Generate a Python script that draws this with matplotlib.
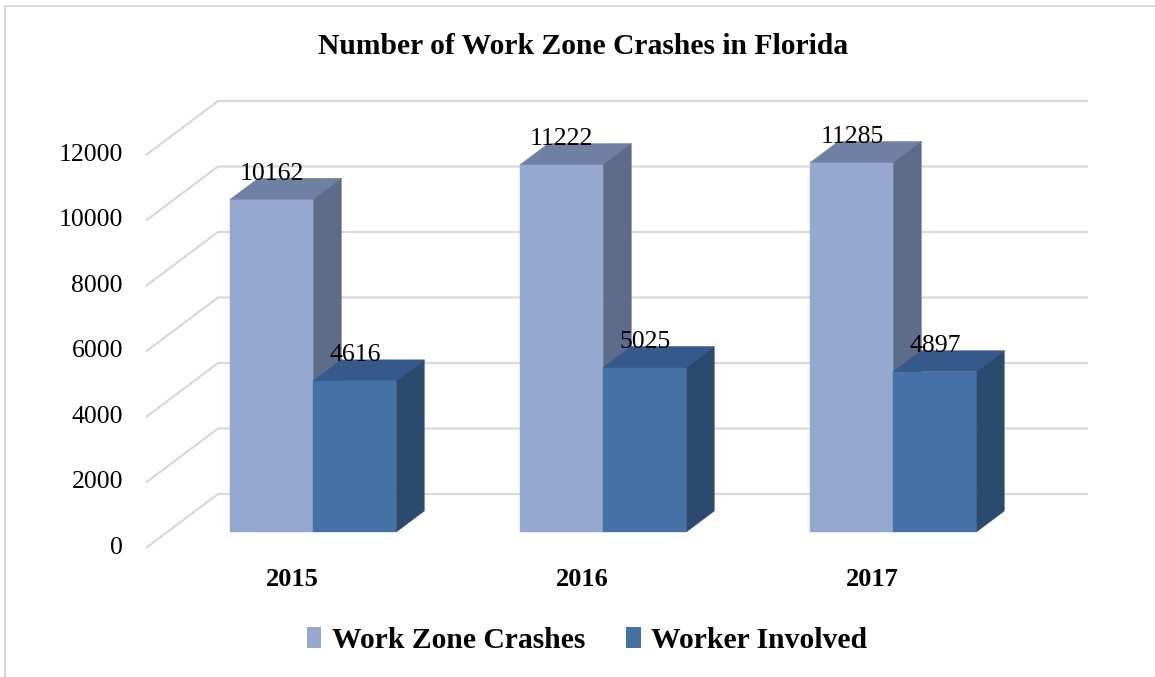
import matplotlib
matplotlib.use("Agg")
import matplotlib.pyplot as plt
from matplotlib.patches import Polygon, Patch
from matplotlib.lines import Line2D

# ---------------- data ----------------
years = ["2015", "2016", "2017"]
work_zone_crashes = [10162, 11222, 11285]
worker_involved = [4616, 5025, 4897]
series_names = ["Work Zone Crashes", "Worker Involved"]
y_ticks = [0, 2000, 4000, 6000, 8000, 10000, 12000]
title = "Number of Work Zone Crashes in Florida"

# ---------------- style ----------------
W, H, DPI = 1155, 677, 100
FONT = ["Liberation Serif", "DejaVu Serif"]
light = dict(front="#94A8D0", top="#6F80A3", side="#5D6C88")
dark = dict(front="#4472A6", top="#35598A", side="#2C4A6E")
grid_c = "#D9D9D9"

# layout in pixel anchors -> data mapping
PX_CAT0 = 292.0        # x pixel of category 0 on the front plane
PX_PER_CAT = 290.0
PX_Y0 = 548.0          # y pixel of value 0 on the front plane
PX_PER_VAL = 393.0 / 12000
DEPTH_PX = (72.0, 54.0)
DX = DEPTH_PX[0] / PX_PER_CAT
DY = DEPTH_PX[1] / PX_PER_VAL
T0, T1 = 0.296, 0.685           # bar front/back depth fraction
BAR_W = 83.0 / PX_PER_CAT

fig = plt.figure(figsize=(W / DPI, H / DPI), dpi=DPI)
ax = fig.add_axes([0, 0, 1, 1])
ax.set_xlim(-PX_CAT0 / PX_PER_CAT, (W - PX_CAT0) / PX_PER_CAT)
ax.set_ylim(-(H - PX_Y0) / PX_PER_VAL, PX_Y0 / PX_PER_VAL)
ax.axis("off")

def px2x(px):
    return (px - PX_CAT0) / PX_PER_CAT

# gridlines (floor/back wall)
x_left = px2x(146)
x_right = px2x(1088)
for v in y_ticks:
    ax.add_line(Line2D([x_left, x_left + DX, x_right], [v, v + DY, v + DY],
                       color=grid_c, lw=1.6, zorder=1, solid_capstyle="butt"))
    ax.text(px2x(123), v, f"{v}", ha="right", va="center", fontsize=18.5,
            family=FONT, color="#000000")

def draw_bar(x0, value, cols, z):
    x1 = x0 + BAR_W
    ox0, oy0 = T0 * DX, T0 * DY
    ox1, oy1 = T1 * DX, T1 * DY
    front = [(x0 + ox0, oy0), (x1 + ox0, oy0), (x1 + ox0, value + oy0), (x0 + ox0, value + oy0)]
    top = [(x0 + ox0, value + oy0), (x1 + ox0, value + oy0), (x1 + ox1, value + oy1), (x0 + ox1, value + oy1)]
    side = [(x1 + ox0, oy0), (x1 + ox1, oy1), (x1 + ox1, value + oy1), (x1 + ox0, value + oy0)]
    for pts, c in ((front, cols["front"]), (top, cols["top"]), (side, cols["side"])):
        ax.add_patch(Polygon(pts, closed=True, facecolor=c, edgecolor=c, lw=0.3, zorder=z))
    return (x0 + x1) / 2 + ox0, value + oy0

labels = []
for i, (a, b) in enumerate(zip(work_zone_crashes, worker_involved)):
    cx, ty = draw_bar(i - BAR_W, a, light, 2 + 2 * i)
    labels.append((cx, ty, a))
    cx, ty = draw_bar(i, b, dark, 3 + 2 * i)
    labels.append((cx, ty, b))
    ax.text(i, -(579 - PX_Y0) / PX_PER_VAL, years[i], ha="center", va="center",
            fontsize=19, fontweight="bold", family=FONT)

for cx, ty, v in labels:
    ax.text(cx, ty + 25.5 / PX_PER_VAL, f"{v}", ha="center", va="center",
            fontsize=18.5, family=FONT, zorder=20)

fig.text(583 / W, 1 - 46 / H, title, ha="center", va="center", fontsize=21.3,
         fontweight="bold", family=FONT)

handles = [Patch(facecolor=light["front"], edgecolor="none"),
           Patch(facecolor=dark["front"], edgecolor="none")]
leg = fig.legend(handles, series_names, loc="center", bbox_to_anchor=(587 / W, 1 - 640 / H),
                 ncol=2, frameon=False, handlelength=0.48, handleheight=0.7,
                 handletextpad=0.35, columnspacing=1.4,
                 prop=dict(family=FONT, weight="bold", size=21.3))

# outer chart border
fig.add_artist(Line2D([5 / W, 5 / W], [0, 1 - 6 / H], color=grid_c, lw=1.5))
fig.add_artist(Line2D([5 / W, 1], [1 - 6 / H, 1 - 6 / H], color=grid_c, lw=1.5))

fig.savefig("out.png", dpi=DPI)
